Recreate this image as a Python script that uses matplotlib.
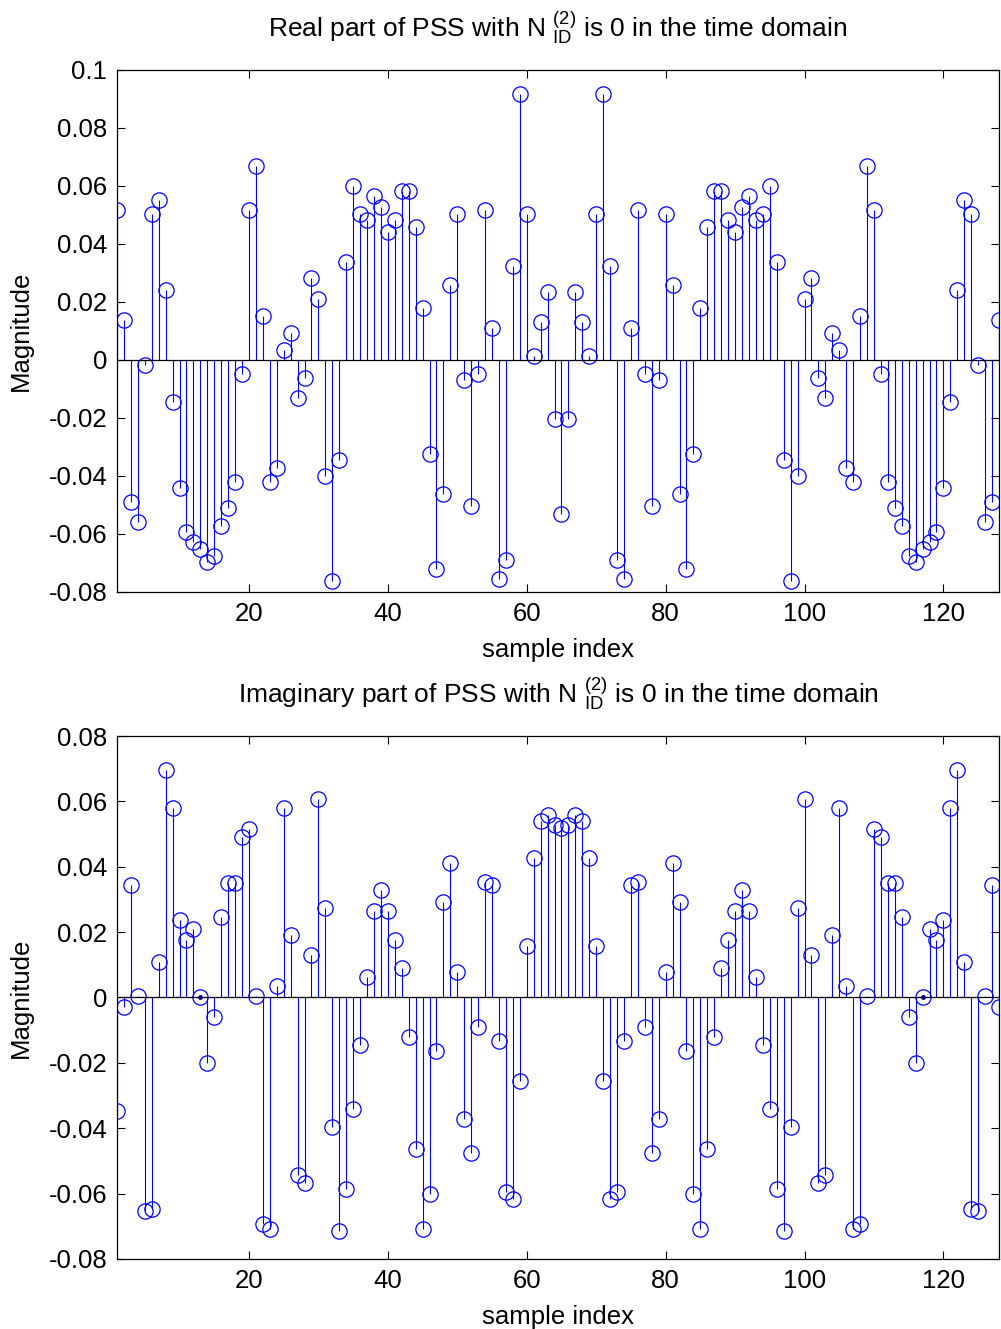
import numpy as np
import matplotlib
matplotlib.use('Agg')
import matplotlib.pyplot as plt

plt.rcParams['font.family'] = ['Liberation Sans', 'DejaVu Sans']
plt.rcParams['mathtext.fontset'] = 'custom'
plt.rcParams['mathtext.rm'] = 'Liberation Sans'
plt.rcParams['mathtext.it'] = 'Liberation Sans'
plt.rcParams['axes.unicode_minus'] = False

# sample index 1..128
n = np.arange(1, 129)

# real part of the PSS (N_ID^(2) = 0)
real_part = [0.0516, 0.0137, -0.0490, -0.0559, -0.0016, 0.0504, 0.0550, 0.0240, -0.0146, -0.0442,
             -0.0594, -0.0628, -0.0652, -0.0696, -0.0676, -0.0574, -0.0511, -0.0422, -0.0050, 0.0516,
             0.0667, 0.0150, -0.0422, -0.0373, 0.0034, 0.0094, -0.0132, -0.0064, 0.0281, 0.0211,
             -0.0400, -0.0761, -0.0346, 0.0336, 0.0599, 0.0503, 0.0481, 0.0565, 0.0529, 0.0440,
             0.0484, 0.0584, 0.0584, 0.0460, 0.0179, -0.0325, -0.0720, -0.0463, 0.0260, 0.0502,
             -0.0070, -0.0505, -0.0049, 0.0516, 0.0109, -0.0754, -0.0691, 0.0323, 0.0917, 0.0503,
             0.0014, 0.0130, 0.0233, -0.0202, -0.0532, -0.0202, 0.0233, 0.0130, 0.0014, 0.0503,
             0.0917, 0.0323, -0.0691, -0.0754, 0.0109, 0.0516, -0.0049, -0.0505, -0.0070, 0.0502,
             0.0260, -0.0463, -0.0720, -0.0325, 0.0179, 0.0460, 0.0584, 0.0584, 0.0484, 0.0440,
             0.0529, 0.0565, 0.0481, 0.0503, 0.0599, 0.0336, -0.0346, -0.0761, -0.0400, 0.0211,
             0.0281, -0.0064, -0.0132, 0.0094, 0.0034, -0.0373, -0.0422, 0.0150, 0.0667, 0.0516,
             -0.0050, -0.0422, -0.0511, -0.0574, -0.0676, -0.0696, -0.0652, -0.0628, -0.0594, -0.0442,
             -0.0146, 0.0240, 0.0550, 0.0504, -0.0016, -0.0559, -0.0490, 0.0137]

# imaginary part
imag_part = [-0.0347, -0.0029, 0.0343, 0.0006, -0.0652, -0.0647, 0.0110, 0.0697, 0.0580, 0.0238,
             0.0176, 0.0208, 0.0000, -0.0201, -0.0061, 0.0245, 0.0349, 0.0349, 0.0490, 0.0514,
             0.0006, -0.0692, -0.0709, 0.0036, 0.0580, 0.0190, -0.0544, -0.0567, 0.0129, 0.0606,
             0.0275, -0.0397, -0.0714, -0.0586, -0.0341, -0.0146, 0.0062, 0.0264, 0.0330, 0.0264,
             0.0177, 0.0091, -0.0121, -0.0463, -0.0709, -0.0600, -0.0164, 0.0293, 0.0410, 0.0079,
             -0.0371, -0.0477, -0.0091, 0.0354, 0.0343, -0.0134, -0.0594, -0.0618, -0.0256, 0.0159,
             0.0428, 0.0540, 0.0557, 0.0529, 0.0520, 0.0529, 0.0557, 0.0540, 0.0428, 0.0159,
             -0.0256, -0.0618, -0.0594, -0.0134, 0.0343, 0.0354, -0.0091, -0.0477, -0.0371, 0.0079,
             0.0410, 0.0293, -0.0164, -0.0600, -0.0709, -0.0463, -0.0121, 0.0091, 0.0177, 0.0264,
             0.0330, 0.0264, 0.0062, -0.0146, -0.0341, -0.0586, -0.0714, -0.0397, 0.0275, 0.0606,
             0.0129, -0.0567, -0.0544, 0.0190, 0.0580, 0.0036, -0.0709, -0.0692, 0.0006, 0.0514,
             0.0490, 0.0349, 0.0349, 0.0245, -0.0061, -0.0201, 0.0000, 0.0208, 0.0176, 0.0238,
             0.0580, 0.0697, 0.0110, -0.0647, -0.0652, 0.0006, 0.0343, -0.0029]

xticks = [20, 40, 60, 80, 100, 120]
real_yticks = [-0.08, -0.06, -0.04, -0.02, 0, 0.02, 0.04, 0.06, 0.08, 0.1]
imag_yticks = [-0.08, -0.06, -0.04, -0.02, 0, 0.02, 0.04, 0.06, 0.08]

label_nid = 'N $^{(2)}_{\\mathrm{ID}}$'
titles = ['Real part of PSS with ' + label_nid + ' is 0 in the time domain',
          'Imaginary part of PSS with ' + label_nid + ' is 0 in the time domain']

fig = plt.figure(figsize=(10.01, 13.29), dpi=100)
ax1 = fig.add_axes([0.1169, 0.5546, 0.8811, 0.3928])
ax2 = fig.add_axes([0.1169, 0.0527, 0.8811, 0.3935])

FS = 18.5


def draw(ax, vals, yticks, ttl):
    ml, sl, bl = ax.stem(n, vals, linefmt='b-', markerfmt='o', basefmt='k-')
    plt.setp(sl, linewidth=0.8, color='#0000ff')
    plt.setp(ml, markersize=11, markerfacecolor='none', markeredgecolor='#0000ff', markeredgewidth=0.9)
    plt.setp(bl, linewidth=0.9, color='black')
    # zero samples get a dot in the middle of the circle (like matlab)
    v = np.array(vals)
    z = v == 0
    if z.any():
        ax.plot(n[z], v[z], '.', color='#000080', markersize=5)
    ax.set_xlim(1, 128)
    ax.set_ylim(yticks[0], yticks[-1])
    ax.set_xticks(xticks)
    ax.set_yticks(yticks)
    ax.set_yticklabels(['%g' % t for t in yticks])
    ax.tick_params(direction='in', top=True, right=True, length=6, width=0.8,
                   labelsize=FS, pad=7)
    for s in ax.spines.values():
        s.set_linewidth(0.9)
    ax.set_xlabel('sample index', fontsize=FS, labelpad=9)
    ax.set_ylabel('Magnitude', fontsize=FS, labelpad=11)
    ax.set_title(ttl, fontsize=FS + 0.5, pad=24)


draw(ax1, real_part, real_yticks, titles[0])
draw(ax2, imag_part, imag_yticks, titles[1])

fig.savefig('out.png', dpi=100)
